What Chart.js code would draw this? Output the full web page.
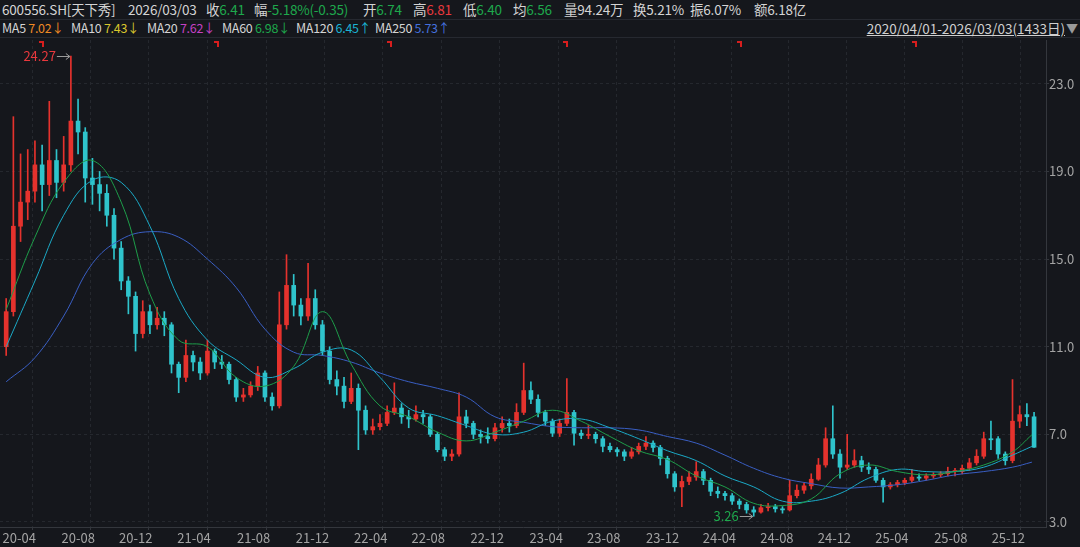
<!DOCTYPE html>
<html>
<head>
<meta charset="utf-8">
<script src="https://cdn.jsdelivr.net/npm/chart.js@4.4.1/dist/chart.umd.min.js"></script>
<style>
  body { margin: 0; background: #15171c; width: 1080px; height: 547px; overflow: hidden;
         font-family: "Noto Sans CJK SC", "Noto Sans", sans-serif; color: #d4d4d4; position: relative; }
  .row span { position: absolute; white-space: nowrap; }
  #row1 span { top: 0; line-height: 19px; font-size: 13.5px; letter-spacing: -0.2px; }
  #row2 span { top: 19px; line-height: 18px; font-size: 12.5px; letter-spacing: -0.3px; }
  .sep { position: absolute; left: 0; width: 1080px; height: 1px; background: #262930; }
  .g { color: #1ea84c; } .r { color: #e8383d; }
  #range { position: absolute; right: 15px; top: 19px; height: 18px; line-height: 18px; font-size: 13.5px;
           color: #d0d0d0; text-decoration: underline; white-space: nowrap; }
  #tri { position: absolute; right: 2px; top: 19px; line-height: 18px; font-size: 12px; color: #9a9a9a; }
  #kline { position: absolute; left: 0; top: 40px; }
</style>
</head>
<body>
<div id="row1" class="row">
  <span style="left:2px">600556.SH[天下秀]</span>
  <span style="left:128px">2026/03/03</span>
  <span style="left:206px">收<b class="g" style="font-weight:normal">6.41</b></span>
  <span style="left:254px">幅<b class="g" style="font-weight:normal">-5.18%(-0.35)</b></span>
  <span style="left:363px">开<b class="g" style="font-weight:normal">6.74</b></span>
  <span style="left:413px">高<b class="r" style="font-weight:normal">6.81</b></span>
  <span style="left:463px">低<b class="g" style="font-weight:normal">6.40</b></span>
  <span style="left:513px">均<b class="g" style="font-weight:normal">6.56</b></span>
  <span style="left:564px">量94.24万</span>
  <span style="left:633px">换5.21%</span>
  <span style="left:690px">振6.07%</span>
  <span style="left:754px">额6.18亿</span>
</div>
<div class="sep" style="top:19px"></div>
<div id="row2" class="row">
  <span style="left:2px">MA5 <i style="font-style:normal;color:#f08a24">7.02↓</i></span>
  <span style="left:71px">MA10 <i style="font-style:normal;color:#d8c52c">7.43↓</i></span>
  <span style="left:147px">MA20 <i style="font-style:normal;color:#c441c4">7.62↓</i></span>
  <span style="left:222px">MA60 <i style="font-style:normal;color:#1ea84c">6.98↓</i></span>
  <span style="left:296px">MA120 <i style="font-style:normal;color:#1bb3d3">6.45↑</i></span>
  <span style="left:375px">MA250 <i style="font-style:normal;color:#4470dc">5.73↑</i></span>
</div>
<div id="range">2020/04/01-2026/03/03(1433日)</div>
<div id="tri">▼</div>
<div class="sep" style="top:37px"></div>
<canvas id="kline" width="1080" height="507"></canvas>

<script>
// candles, one per 10 trading days since 2020/04/01
const opens = [
  11.0,12.6,16.5,17.6,18.1,19.3,18.4,19.5,18.5,19.3,
  21.3,20.8,18.7,18.4,18.0,17.0,15.5,14.0,13.3,11.6,
  12.6,12.0,12.3,12.0,10.2,9.6,10.6,10.3,9.8,10.8,
  10.3,10.2,9.5,8.7,8.8,9.2,9.8,8.7,8.3,12.0,
  13.8,12.9,12.4,13.2,12.0,10.8,9.5,9.2,8.5,9.1,
  8.1,7.2,7.35,7.5,8.0,8.2,7.8,7.7,7.9,7.8,
  7.0,6.3,6.0,6.1,7.8,7.5,7.0,6.9,6.8,7.3,
  7.5,7.4,8.0,9.0,8.6,8.0,7.6,7.05,7.5,8.0,
  7.05,6.95,7.0,6.8,6.45,6.3,6.2,6.0,6.2,6.45,
  6.6,6.4,5.9,5.2,4.6,4.85,5.05,5.3,4.9,4.4,
  4.3,4.2,3.95,3.8,3.55,3.45,3.65,3.7,3.6,3.55,
  4.2,4.45,4.65,4.95,5.6,6.8,6.1,5.5,5.6,5.8,
  5.5,5.4,4.9,4.6,4.7,4.8,4.9,5.05,5.0,5.1,
  5.15,5.2,5.3,5.3,5.45,5.7,6.0,6.8,6.8,6.1,
  5.8,7.6,7.9,7.8
];
const closes = [
  12.6,16.5,17.6,18.1,19.3,18.4,19.5,18.5,19.3,21.3,
  20.8,18.7,18.4,18.0,17.0,15.5,14.0,13.3,11.6,12.6,
  12.0,12.3,12.0,10.2,9.6,10.6,10.3,9.8,10.8,10.3,
  10.2,9.5,8.7,8.8,9.2,9.8,8.7,8.3,12.0,13.8,
  12.9,12.4,13.2,12.0,10.8,9.5,9.2,8.5,9.1,8.1,
  7.2,7.35,7.5,8.0,8.2,7.8,7.7,7.9,7.8,7.0,
  6.3,6.0,6.1,7.8,7.5,7.0,6.9,6.8,7.3,7.5,
  7.4,8.0,9.0,8.6,8.0,7.6,7.05,7.5,8.0,7.05,
  6.95,7.0,6.8,6.45,6.3,6.2,6.0,6.2,6.45,6.6,
  6.4,5.9,5.2,4.6,4.85,5.05,5.3,4.9,4.4,4.3,
  4.2,3.95,3.8,3.55,3.45,3.65,3.7,3.6,3.55,4.2,
  4.45,4.65,4.95,5.6,6.8,6.1,5.5,5.6,5.8,5.5,
  5.4,4.9,4.6,4.7,4.8,4.9,5.05,5.0,5.1,5.15,
  5.2,5.3,5.35,5.45,5.7,6.0,6.8,6.75,6.1,5.8,
  7.6,7.9,7.8,6.41
];
const highs = [
  13.2,21.5,19.8,20.0,20.4,20.2,22.2,20.0,20.6,24.27,
  22.3,21.0,19.6,19.0,18.4,17.3,15.8,14.2,13.5,13.1,
  12.9,12.8,12.6,12.1,10.3,11.3,10.8,10.5,11.3,10.9,
  10.6,10.3,9.6,9.1,9.4,10.1,9.9,8.9,13.5,15.2,
  14.3,13.2,14.8,13.6,12.2,11.0,9.9,9.6,9.8,9.3,
  8.3,7.7,7.9,8.3,9.35,8.4,8.1,8.3,8.1,7.9,
  7.1,6.4,6.3,8.9,8.1,7.6,7.2,7.3,7.5,7.8,
  7.7,8.4,10.25,9.4,8.8,8.1,7.7,7.7,9.55,8.1,
  7.2,7.4,7.1,6.9,6.6,6.4,6.3,6.4,6.6,6.9,
  6.7,6.5,6.0,5.3,5.1,5.3,5.75,5.4,5.0,4.6,
  4.4,4.3,4.05,3.9,3.7,3.8,3.85,3.8,3.7,4.9,
  4.7,4.8,5.2,5.9,7.3,8.3,6.3,7.0,6.3,6.0,
  5.7,5.5,5.0,4.8,4.9,5.0,5.4,5.2,5.2,5.25,
  5.3,5.5,5.45,5.6,5.9,6.3,7.1,7.6,6.9,6.2,
  9.5,8.3,8.4,8.0
];
const lows = [
  10.6,12.4,15.8,16.8,17.6,17.2,17.9,17.8,18.1,19.0,
  19.8,17.6,17.5,17.2,16.5,15.0,13.6,12.5,10.8,11.4,
  11.6,11.8,11.5,9.8,8.9,9.4,9.9,9.5,9.7,10.0,
  10.0,9.3,8.5,8.5,8.7,9.0,8.5,8.1,8.2,11.8,
  12.4,12.0,12.2,11.8,10.6,9.3,8.8,8.2,8.4,6.3,
  7.0,7.0,7.2,7.4,7.9,7.5,7.3,7.6,7.5,6.9,
  6.2,5.8,5.8,6.0,7.3,6.8,6.6,6.6,6.7,7.1,
  7.1,7.3,7.9,8.4,7.8,7.4,6.9,6.9,7.4,6.5,
  6.8,6.8,6.6,6.2,6.2,6.0,5.8,5.9,6.1,6.3,
  6.2,5.6,5.0,4.4,3.7,4.7,4.9,4.7,4.2,4.1,
  4.0,3.8,3.6,3.4,3.26,3.4,3.5,3.45,3.4,3.5,
  4.1,4.3,4.5,4.9,5.5,5.9,5.0,5.4,5.5,5.3,
  5.2,4.8,3.9,4.5,4.6,4.7,4.8,4.9,4.9,5.0,
  5.05,5.1,5.1,5.2,5.35,5.6,5.9,6.3,5.9,5.6,
  5.7,7.3,7.4,6.4
];

const maDays = [5,45,85,125,165,205,245,285,325,365,405,445,485,525,565,605,645,685,725,765,
                805,845,885,925,965,1005,1045,1085,1125,1165,1205,1245,1285,1325,1365,1405,1432];
const ma60 = [12.7,16.0,18.5,19.5,17.6,13.4,11.3,11.0,9.6,9.2,10.1,12.6,10.2,8.3,7.8,7.1,6.7,7.1,7.6,8.1,
              7.6,6.9,6.25,5.85,5.1,4.6,3.85,3.75,4.05,5.2,5.6,5.3,5.15,5.3,5.6,6.2,6.98];
const ma120 = [11.0,14.0,17.0,18.6,18.5,16.5,13.2,11.3,10.4,9.6,10.0,10.75,10.85,9.6,8.2,7.85,7.4,7.0,7.1,7.6,
               7.7,7.3,6.8,6.25,5.8,5.1,4.6,3.95,3.95,4.3,5.0,5.4,5.3,5.3,5.5,6.05,6.45];
const ma250 = [9.4,10.5,12.4,14.8,15.9,16.25,16.0,15.0,13.7,11.8,10.75,10.6,10.3,9.8,9.4,9.1,8.7,7.8,7.55,7.35,
               7.3,7.3,7.2,6.9,6.6,6.05,5.45,5.0,4.75,4.55,4.6,4.7,4.9,5.15,5.3,5.5,5.73];

// time axis: trading-day index of each labelled month
const tickDays = [0,82,162,243,326,408,489,569,651,733,813,895,974,1054,1134,1214,1296,1376];
const tickLabels = ['20-04','20-08','20-12','21-04','21-08','21-12','22-04','22-08','22-12',
                    '23-04','23-08','23-12','24-04','24-08','24-12','25-04','25-08','25-12'];
const priceTicks = [3, 7, 11, 15, 19, 23];
const eventDays = [56, 300, 540, 785, 1027, 1271];

const UP = '#e5322d', DOWN = '#2fc4cc';
const candleDays = closes.map((_, i) => i * 10 + 5);
const candleColor = c => closes[c.dataIndex] >= opens[c.dataIndex] ? UP : DOWN;

Chart.defaults.font.family = '"Noto Sans CJK SC", "Noto Sans", sans-serif';

const line = (data, color) => ({
  type: 'line',
  data: maDays.map((d, j) => ({ x: d, y: data[j] })),
  borderColor: color, borderWidth: 1, pointRadius: 0, tension: 0.4, order: 1
});

const marks = {
  id: 'marks',
  afterDatasetsDraw(chart) {
    const { ctx, chartArea, scales: { x, y } } = chart;
    ctx.save();
    ctx.fillStyle = '#d81e1e';
    eventDays.forEach(d => {
      const px = Math.round(x.getPixelForValue(d));
      ctx.fillRect(px - 4, chartArea.top + 1, 5, 2);
      ctx.fillRect(px - 1, chartArea.top + 1, 2, 6);
    });
    const hi = highs.indexOf(Math.max(...highs));
    const lo = lows.indexOf(Math.min(...lows));
    const pin = (i, v, color) => {
      const px = x.getPixelForValue(candleDays[i]) - 1;
      const py = Math.round(y.getPixelForValue(v)) + 0.5;
      ctx.strokeStyle = '#9a9a9a';
      ctx.lineWidth = 1;
      ctx.beginPath();
      ctx.moveTo(px - 13, py); ctx.lineTo(px, py);
      ctx.moveTo(px - 4, py - 3); ctx.lineTo(px, py); ctx.lineTo(px - 4, py + 3);
      ctx.stroke();
      ctx.fillStyle = color;
      ctx.font = '13px "Noto Sans CJK SC", "Noto Sans", sans-serif';
      ctx.textAlign = 'right';
      ctx.textBaseline = 'middle';
      ctx.fillText(v.toFixed(2), px - 14, py);
    };
    pin(hi, highs[hi], '#e8383d');
    pin(lo, lows[lo], '#1ea84c');
    ctx.restore();
  }
};

new Chart(document.getElementById('kline').getContext('2d'), {
  type: 'bar',
  data: {
    datasets: [
      line(ma60, '#1e9e4a'),
      line(ma120, '#1ba9c6'),
      line(ma250, '#3a5fc4'),
      {
        data: candleDays.map((d, i) => ({ x: d, y: [opens[i], closes[i]] })),
        backgroundColor: candleColor, barThickness: 4, minBarLength: 1, grouped: false, order: 2
      },
      {
        data: candleDays.map((d, i) => ({ x: d, y: [lows[i], highs[i]] })),
        backgroundColor: candleColor, barThickness: 1, grouped: false, order: 3
      }
    ]
  },
  options: {
    responsive: false,
    animation: false,
    layout: { padding: 0 },
    plugins: { legend: { display: false }, tooltip: { enabled: false } },
    scales: {
      x: {
        type: 'linear', min: -3.6, max: 1451.6, offset: false,
        afterBuildTicks: s => { s.ticks = tickDays.map(v => ({ value: v })); },
        afterFit: s => { s.height = 20; s.paddingLeft = 0; s.paddingRight = 0; },
        grid: { color: '#25282e', drawTicks: true, tickLength: 3, tickColor: '#34373d' },
        border: { color: '#34373d', dash: [3, 3] },
        ticks: { color: '#a4a4a4', font: { size: 13 }, align: 'start', padding: 0, maxRotation: 0,
                 autoSkip: false, callback: (v, i) => tickLabels[i] }
      },
      y: {
        position: 'right', min: 2.77, max: 25.0,
        afterBuildTicks: s => { s.ticks = priceTicks.map(v => ({ value: v })); },
        afterFit: s => { s.width = 34; s.paddingTop = 0; s.paddingBottom = 0; },
        grid: { color: '#25282e', tickLength: 3, tickColor: '#34373d' },
        border: { color: '#34373d', dash: [3, 3] },
        ticks: { color: '#a4a4a4', font: { size: 13 }, padding: 0, callback: v => v.toFixed(1) }
      }
    }
  },
  plugins: [marks]
});
</script>
</body>
</html>
